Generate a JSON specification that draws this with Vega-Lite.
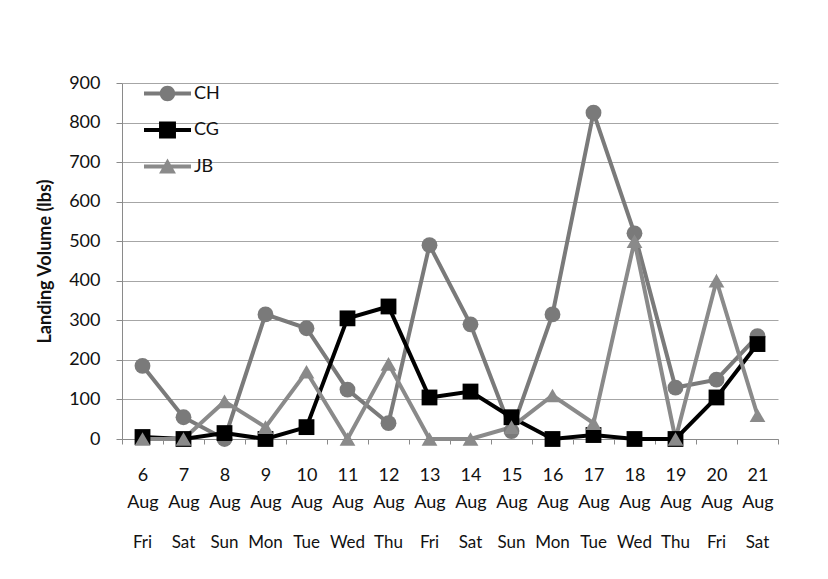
{
  "$schema": "https://vega.github.io/schema/vega-lite/v6.json",
  "width": 656,
  "height": 356,
  "autosize": {"type": "none"},
  "padding": {"left": 122, "top": 83, "right": 50, "bottom": 140},
  "background": "white",
  "config": {
    "font": "Lato",
    "view": {"stroke": null},
    "axis": {
      "labelFont": "Lato",
      "labelFontSize": 18,
      "labelColor": "#111",
      "titleFont": "Lato",
      "domainColor": "#8a8a8a",
      "tickColor": "#8a8a8a",
      "gridColor": "#a6a6a6",
      "gridWidth": 1
    }
  },
  "data": {
    "values": [
      {"date": "6 Aug Fri", "series": "CH", "lbs": 185},
      {"date": "7 Aug Sat", "series": "CH", "lbs": 55},
      {"date": "8 Aug Sun", "series": "CH", "lbs": 0},
      {"date": "9 Aug Mon", "series": "CH", "lbs": 315},
      {"date": "10 Aug Tue", "series": "CH", "lbs": 280},
      {"date": "11 Aug Wed", "series": "CH", "lbs": 125},
      {"date": "12 Aug Thu", "series": "CH", "lbs": 40},
      {"date": "13 Aug Fri", "series": "CH", "lbs": 490},
      {"date": "14 Aug Sat", "series": "CH", "lbs": 290},
      {"date": "15 Aug Sun", "series": "CH", "lbs": 20},
      {"date": "16 Aug Mon", "series": "CH", "lbs": 315},
      {"date": "17 Aug Tue", "series": "CH", "lbs": 825},
      {"date": "18 Aug Wed", "series": "CH", "lbs": 520},
      {"date": "19 Aug Thu", "series": "CH", "lbs": 130},
      {"date": "20 Aug Fri", "series": "CH", "lbs": 150},
      {"date": "21 Aug Sat", "series": "CH", "lbs": 260},
      {"date": "6 Aug Fri", "series": "CG", "lbs": 5},
      {"date": "7 Aug Sat", "series": "CG", "lbs": 0},
      {"date": "8 Aug Sun", "series": "CG", "lbs": 15},
      {"date": "9 Aug Mon", "series": "CG", "lbs": 0},
      {"date": "10 Aug Tue", "series": "CG", "lbs": 30},
      {"date": "11 Aug Wed", "series": "CG", "lbs": 305},
      {"date": "12 Aug Thu", "series": "CG", "lbs": 335},
      {"date": "13 Aug Fri", "series": "CG", "lbs": 105},
      {"date": "14 Aug Sat", "series": "CG", "lbs": 120},
      {"date": "15 Aug Sun", "series": "CG", "lbs": 55},
      {"date": "16 Aug Mon", "series": "CG", "lbs": 0},
      {"date": "17 Aug Tue", "series": "CG", "lbs": 10},
      {"date": "18 Aug Wed", "series": "CG", "lbs": 0},
      {"date": "19 Aug Thu", "series": "CG", "lbs": 0},
      {"date": "20 Aug Fri", "series": "CG", "lbs": 105},
      {"date": "21 Aug Sat", "series": "CG", "lbs": 240},
      {"date": "6 Aug Fri", "series": "JB", "lbs": 0},
      {"date": "7 Aug Sat", "series": "JB", "lbs": 0},
      {"date": "8 Aug Sun", "series": "JB", "lbs": 95},
      {"date": "9 Aug Mon", "series": "JB", "lbs": 30},
      {"date": "10 Aug Tue", "series": "JB", "lbs": 170},
      {"date": "11 Aug Wed", "series": "JB", "lbs": 0},
      {"date": "12 Aug Thu", "series": "JB", "lbs": 190},
      {"date": "13 Aug Fri", "series": "JB", "lbs": 0},
      {"date": "14 Aug Sat", "series": "JB", "lbs": 0},
      {"date": "15 Aug Sun", "series": "JB", "lbs": 30},
      {"date": "16 Aug Mon", "series": "JB", "lbs": 110},
      {"date": "17 Aug Tue", "series": "JB", "lbs": 40},
      {"date": "18 Aug Wed", "series": "JB", "lbs": 500},
      {"date": "19 Aug Thu", "series": "JB", "lbs": 0},
      {"date": "20 Aug Fri", "series": "JB", "lbs": 400},
      {"date": "21 Aug Sat", "series": "JB", "lbs": 60}
    ]
  },
  "encoding": {
    "y": {
      "field": "lbs",
      "type": "quantitative",
      "scale": {"domain": [0, 900]},
      "axis": {
        "title": "Landing Volume (lbs)",
        "titleFontSize": 18,
        "titleFontWeight": "bold",
        "titleColor": "#111",
        "titlePadding": 14,
        "values": [0, 100, 200, 300, 400, 500, 600, 700, 800, 900],
        "tickSize": 6,
        "labelPadding": 16,
        "grid": true
      }
    },
    "color": {
      "field": "series",
      "type": "nominal",
      "scale": {"domain": ["CH", "CG", "JB"], "range": ["#7a7a7a", "#000000", "#8a8a8a"]},
      "legend": {
        "title": null,
        "orient": "none",
        "legendX": 22,
        "legendY": -13,
        "labelFont": "Lato",
        "labelFontSize": 18,
        "labelColor": "#111",
        "symbolSize": 2209,
        "symbolStrokeWidth": 0,
        "rowPadding": 3.5,
        "labelOffset": 3,
        "encode": {
          "symbols": {
            "update": {
              "shape": {"signal": "datum.value === 'CH' ? 'M-1,-0.085H1V0.085H-1Z M0.33,0A0.33,0.33 0 1,1 -0.33,0A0.33,0.33 0 1,1 0.33,0Z' : datum.value === 'CG' ? 'M-1,-0.085H1V0.085H-1Z M-0.36,-0.36H0.36V0.36H-0.36Z' : 'M-1,-0.085H1V0.085H-1Z M0,-0.34L0.36,0.3H-0.36Z'"},
              "fill": {"scale": "color", "field": "value"},
              "strokeWidth": {"value": 0}
            }
          }
        }
      }
    }
  },
  "layer": [
    {
      "mark": {"type": "line", "strokeWidth": 4},
      "encoding": {
        "x": {
          "field": "date",
          "type": "ordinal",
          "sort": null,
          "scale": {"paddingInner": 0, "paddingOuter": 0},
          "axis": {
            "title": null,
            "orient": "bottom",
            "labelAngle": 0,
            "labelExpr": "isValid(datum.value) ? [split(datum.value, ' ')[0], split(datum.value, ' ')[1]] : ''",
            "labelLineHeight": 27,
            "labelPadding": 22,
            "tickSize": 5,
            "tickBand": "extent",
            "grid": false
          }
        }
      }
    },
    {
      "mark": {"type": "point", "filled": true, "opacity": 1, "size": 250},
      "encoding": {
        "x": {
          "field": "date",
          "type": "ordinal",
          "sort": null,
          "axis": {
            "title": null,
            "orient": "bottom",
            "labelAngle": 0,
            "labelExpr": "split(datum.value, ' ')[2]",
            "labelFontSize": 17,
            "offset": 95,
            "labelPadding": 0,
            "ticks": false,
            "domain": false,
            "grid": false
          }
        },
        "shape": {
          "condition": [
            {"test": "datum.series === 'CG'", "value": "square"},
            {"test": "datum.series === 'JB'", "value": "triangle-up"}
          ],
          "value": "circle"
        }
      }
    }
  ],
  "resolve": {"axis": {"x": "independent"}}
}
